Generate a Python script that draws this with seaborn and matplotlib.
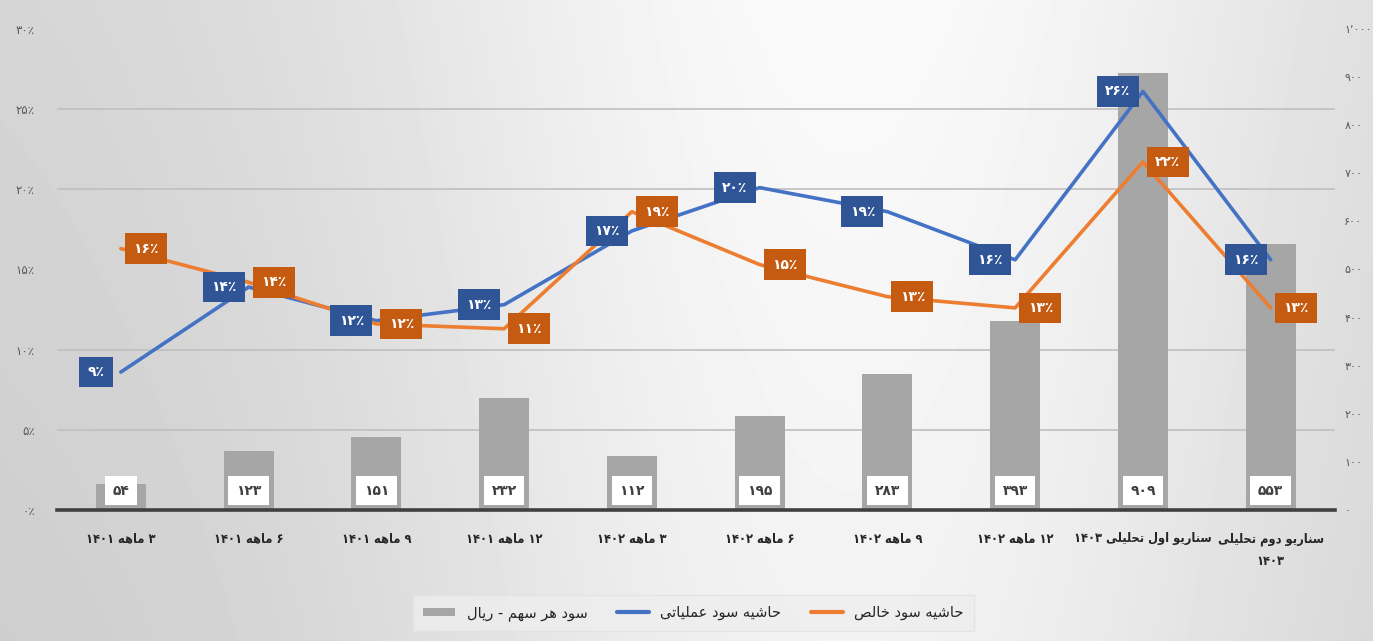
import re
import numpy as np
import matplotlib
matplotlib.use("Agg")
import matplotlib.pyplot as plt
from matplotlib.patches import Patch
from matplotlib.lines import Line2D
import seaborn as sns

# داده‌ها
categories = ["۳ ماهه ۱۴۰۱", "۶ ماهه ۱۴۰۱", "۹ ماهه ۱۴۰۱", "۱۲ ماهه ۱۴۰۱",
              "۳ ماهه ۱۴۰۲", "۶ ماهه ۱۴۰۲", "۹ ماهه ۱۴۰۲", "۱۲ ماهه ۱۴۰۲",
              "سناریو اول تحلیلی ۱۴۰۳", "سناریو دوم تحلیلی\n۱۴۰۳"]
eps = [54, 123, 151, 232, 112, 195, 283, 393, 909, 553]
op_margin = [8.6, 13.9, 11.8, 12.8, 17.4, 20.1, 18.6, 15.6, 26.1, 15.6]
net_margin = [16.3, 14.2, 11.6, 11.3, 18.6, 15.3, 13.3, 12.6, 21.7, 12.6]
pct_ticks = [0, 5, 10, 15, 20, 25, 30]
eps_ticks = [0, 100, 200, 300, 400, 500, 600, 700, 800, 900, 1000]
legend_labels = ["سود هر سهم - ریال", "حاشیه سود عملیاتی", "حاشیه سود خالص"]

# شکل‌دهی حروف فارسی (matplotlib اتصال و راست‌به‌چپ ندارد)
FORMS = {
    'ا': ('\uFE8D', '\uFE8E', None, None),
    'ت': ('\uFE95', '\uFE96', '\uFE97', '\uFE98'),
    'ح': ('\uFEA1', '\uFEA2', '\uFEA3', '\uFEA4'),
    'خ': ('\uFEA5', '\uFEA6', '\uFEA7', '\uFEA8'),
    'د': ('\uFEA9', '\uFEAA', None, None),
    'ر': ('\uFEAD', '\uFEAE', None, None),
    'س': ('\uFEB1', '\uFEB2', '\uFEB3', '\uFEB4'),
    'ش': ('\uFEB5', '\uFEB6', '\uFEB7', '\uFEB8'),
    'ص': ('\uFEB9', '\uFEBA', '\uFEBB', '\uFEBC'),
    'ع': ('\uFEC9', '\uFECA', '\uFECB', '\uFECC'),
    'ل': ('\uFEDD', '\uFEDE', '\uFEDF', '\uFEE0'),
    'م': ('\uFEE1', '\uFEE2', '\uFEE3', '\uFEE4'),
    'ن': ('\uFEE5', '\uFEE6', '\uFEE7', '\uFEE8'),
    'ه': ('\uFEE9', '\uFEEA', '\uFEEB', '\uFEEC'),
    'و': ('\uFEED', '\uFEEE', None, None),
    'ی': ('\uFEEF', '\uFEF0', '\uFEF3', '\uFEF4'),
}


def shape_line(text):
    out = []
    for i, ch in enumerate(text):
        if ch not in FORMS:
            out.append(ch)
            continue
        prev = text[i - 1] if i > 0 else ''
        nxt = text[i + 1] if i + 1 < len(text) else ''
        jp = prev in FORMS and FORMS[prev][2] is not None
        jn = FORMS[ch][2] is not None and nxt in FORMS
        iso, fin, ini, med = FORMS[ch]
        out.append(med if (jp and jn) else fin if jp else ini if jn else iso)
    s = ''.join(out)[::-1]
    return re.sub(r'[\u06F0-\u06F9\u066A\u066C0-9]+', lambda m: m.group(0)[::-1], s)


def fa(text):
    return '\n'.join(shape_line(t) for t in text.split('\n'))


def fa_num(n):
    return str(n).translate(str.maketrans('0123456789', '۰۱۲۳۴۵۶۷۸۹'))


sns.set_style("white")
plt.rcParams['font.family'] = ['DejaVu Sans']

fig = plt.figure(figsize=(13.73, 6.41), dpi=100)

# پس‌زمینه گرادیانی
bg = fig.add_axes([0, 0, 1, 1], zorder=-10)
xx = np.linspace(0, 1, 400)
yy = np.linspace(0, 1, 200)
X, Y = np.meshgrid(xx, yy)
shade = 0.80 + 0.15 * np.exp(-((X - 0.62) / 0.36) ** 2) + 0.03 * (1 - Y)
bg.imshow(np.clip(shade, 0, 1), cmap='gray', vmin=0, vmax=1, aspect='auto', extent=[0, 1, 0, 1])
bg.axis('off')

ax = fig.add_axes([0.0415, 0.2044, 0.9305, 0.7506])
ax.patch.set_alpha(0)
x = np.arange(len(categories))

sns.barplot(x=categories, y=eps, ax=ax, color='#A6A6A6', saturation=1, width=0.39,
            edgecolor='none', linewidth=0, zorder=2)
ax.set_ylim(0, 1000)
ax.set_xlim(-0.5, len(categories) - 0.5)
for s in ['top', 'left', 'right']:
    ax.spines[s].set_visible(False)
ax.spines['bottom'].set_color('#404040')
ax.spines['bottom'].set_linewidth(2.6)
ax.spines['bottom'].set_zorder(5)
ax.set_xlabel('')
ax.set_ylabel('')

for i, v in enumerate(eps):
    ax.annotate(fa_num(v), xy=(i, 0), xytext=(0, 14), textcoords='offset points',
                ha='center', va='center', fontsize=10, fontweight='bold', color='#404040', zorder=4,
                bbox=dict(boxstyle='square,pad=0.55', fc='white', ec='none'))

ax2 = ax.twinx()
ax2.patch.set_alpha(0)
sns.lineplot(x=x, y=op_margin, ax=ax2, color='#4472C4', lw=2.6, zorder=3)
sns.lineplot(x=x, y=net_margin, ax=ax2, color='#ED7D31', lw=2.6, zorder=3)
ax2.set_ylim(0, 30)
ax2.set_yticks(pct_ticks)
ax2.set_yticklabels([fa_num(p) + '٪' for p in pct_ticks])
ax2.yaxis.tick_left()
ax2.tick_params(axis='y', length=0, pad=16, labelsize=8.5, labelcolor='#595959')
for s in ax2.spines.values():
    s.set_visible(False)
ax2.set_ylabel('')

# محور راست (ریال) بعد از twinx تنظیم می‌شود
ax.yaxis.tick_right()
ax.set_yticks(eps_ticks)
ax.set_yticklabels([fa_num(v) if v < 1000 else '۱٬۰۰۰' for v in eps_ticks])
ax.set_yticks([p * 1000 / 30 for p in pct_ticks], minor=True)
ax.grid(which='minor', axis='y', color='#BFBFBF', lw=1.2, zorder=0)
ax.grid(which='major', axis='y', visible=False)
ax.tick_params(axis='y', which='both', length=0, pad=7, labelsize=8, labelcolor='#595959',
               left=False, labelleft=False, right=False, labelright=True)
ax.set_xticks(x)
ax.set_xticklabels([fa(c) for c in categories], fontsize=9.2, fontweight='bold', color='#262626',
                   linespacing=1.9, fontstretch='condensed')
ax.tick_params(axis='x', length=0, pad=16)

for i, v in enumerate(op_margin):
    ax2.annotate(fa_num(round(v)) + '٪', xy=(i, v), xytext=(-18, 0), textcoords='offset points',
                 ha='center', va='center', fontsize=10, fontweight='bold', color='white', zorder=6,
                 bbox=dict(boxstyle='square,pad=0.6', fc='#2F5597', ec='none'))
for i, v in enumerate(net_margin):
    ax2.annotate(fa_num(round(v)) + '٪', xy=(i, v), xytext=(18, 0), textcoords='offset points',
                 ha='center', va='center', fontsize=10, fontweight='bold', color='white', zorder=6,
                 bbox=dict(boxstyle='square,pad=0.6', fc='#C55A11', ec='none'))

handles = [Patch(facecolor='#A6A6A6', edgecolor='none'),
           Line2D([0], [0], color='#4472C4', lw=3),
           Line2D([0], [0], color='#ED7D31', lw=3)]
leg = fig.legend(handles, [fa(t) for t in legend_labels], loc='center', bbox_to_anchor=(0.505, 0.044),
                 ncol=3, frameon=True, fontsize=10.5, handlelength=2.2, handleheight=0.5,
                 columnspacing=2.0, borderpad=0.7, fancybox=False)
leg.get_frame().set_facecolor('#EEEEEE')
leg.get_frame().set_edgecolor('#E2E2E2')

fig.savefig('out.png', dpi=100)
